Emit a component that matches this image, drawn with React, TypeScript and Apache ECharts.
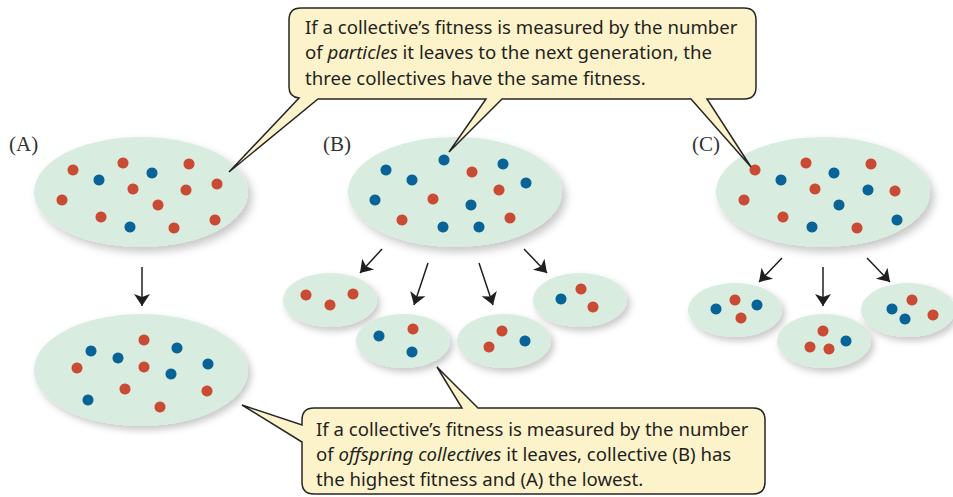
import React, { useEffect, useRef } from "react";
import * as echarts from "echarts";

// Collectives: centres [x, y]
const parentCenters = [
  [141, 192],
  [455, 192],
  [823, 192],
];
const offspringCenters = [
  [141, 370],
  [330, 300],
  [403, 341],
  [504, 341],
  [580, 300],
  [735, 310],
  [824, 341],
  [908, 310],
];

// Red particles
const redDots = [
  // A parent
  [73, 170], [123, 163], [189, 164], [133, 189], [186, 190], [217, 184],
  [62, 200], [158, 205], [101, 217], [174, 228], [215, 220],
  // A offspring
  [144, 340], [77, 368], [144, 367], [125, 389], [160, 407], [207, 391],
  // B parent
  [472, 172], [499, 190], [433, 199], [402, 220], [510, 218],
  // B offspring
  [306, 295], [330, 305], [353, 294],
  [413, 329],
  [502, 331], [489, 347],
  [581, 289], [593, 307],
  // C parent
  [755, 170], [806, 163], [871, 164], [815, 189], [895, 191], [744, 200],
  [783, 217], [857, 228],
  // C offspring
  [735, 300], [741, 318],
  [823, 331], [810, 347], [829, 349],
  [912, 300], [933, 315],
];

// Blue particles
const blueDots = [
  // A parent
  [99, 180], [152, 173], [130, 227],
  // A offspring
  [91, 351], [118, 358], [177, 348], [208, 364], [171, 374], [88, 400],
  // B parent
  [444, 160], [386, 170], [412, 180], [503, 164], [526, 183], [375, 200],
  [471, 205], [443, 227], [479, 227],
  // B offspring
  [379, 336], [412, 352],
  [525, 341],
  [561, 299],
  // C parent
  [781, 180], [834, 173], [868, 190], [839, 205], [812, 227], [897, 220],
  // C offspring
  [716, 309], [757, 305],
  [846, 341],
  [892, 309], [905, 319],
];

// Reproduction arrows [from, to]
const arrows = [
  [[142, 267], [142, 306]],
  [[382, 249], [360, 273]],
  [[428, 263], [414, 305]],
  [[479, 263], [493, 305]],
  [[524, 249], [547, 273]],
  [[782, 258], [759, 282]],
  [[823, 267], [823, 306]],
  [[867, 258], [890, 282]],
];

const panelLabels = ["(A)", "(B)", "(C)"];

const topLines = [
  "If a collective’s fitness is measured by the number",
  "of {i|particles} it leaves to the next generation, the",
  "three collectives have the same fitness.",
];
const bottomLines = [
  "If a collective’s fitness is measured by the number",
  "of {i|offspring collectives} it leaves, collective (B) has",
  "the highest fitness and (A) the lowest.",
];

const TOP_CALLOUT =
  "M301 8 L744 8 Q756 8 756 20 L756 87 Q756 99 744 99 L707 99 L751 167 L691 99 " +
  "L502 99 L449 152 L486 99 L318 99 L229 172 L299 98 Q289 97 289 87 L289 20 Q289 8 301 8 Z";
const BOTTOM_CALLOUT =
  "M314 408 L462 408 L437 367 L478 408 L753 408 Q765 408 765 420 L765 482 Q765 494 753 494 " +
  "L314 494 Q302 494 302 482 L302 442 L242 405 L302 425 L302 420 Q302 408 314 408 Z";

let registered = false;
function registerShapes() {
  if (registered) return;
  echarts.graphic.registerShape("calloutTop", echarts.graphic.extendPath(TOP_CALLOUT, {}));
  echarts.graphic.registerShape("calloutBottom", echarts.graphic.extendPath(BOTTOM_CALLOUT, {}));
  registered = true;
}

const SANS = "'Noto Sans', 'Open Sans', sans-serif";
const FS = 18.6;

export default function App() {
  const ref = useRef<HTMLDivElement>(null);
  useEffect(() => {
    if (!ref.current) return;
    registerShapes();
    const chart = echarts.init(ref.current, undefined, { renderer: "svg" });

    const textEl = (txt: string, x: number, y: number) => ({
      type: "text",
      z: 101,
      x,
      y,
      style: {
        text: txt,
        fontSize: FS,
        fontFamily: SANS,
        fill: "#231f20",
        verticalAlign: "middle",
        align: "left",
        rich: {
          i: { fontStyle: "italic", fontSize: FS, fontFamily: SANS, fill: "#231f20" },
        },
      },
    });

    const labelX = [9, 323, 692];

    const option: any = {
      animation: false,
      grid: { left: 0, right: 0, top: 0, bottom: 0 },
      xAxis: { type: "value", min: 0, max: 953, show: false },
      yAxis: { type: "value", min: 0, max: 497, inverse: true, show: false },
      series: [
        {
          type: "scatter",
          z: 1,
          symbol: "circle",
          symbolSize: [214, 110],
          silent: true,
          itemStyle: {
            color: "#d9ece0",
            opacity: 1,
            shadowBlur: 8,
            shadowOffsetX: 4,
            shadowOffsetY: 5,
            shadowColor: "rgba(0,0,0,0.22)",
          },
          data: parentCenters,
        },
        {
          type: "scatter",
          z: 1,
          symbol: "circle",
          symbolSize: (v: number[], p: any) => (p.dataIndex === 0 ? [214, 112] : [94, 54]),
          silent: true,
          itemStyle: {
            color: "#d9ece0",
            opacity: 1,
            shadowBlur: 7,
            shadowOffsetX: 3,
            shadowOffsetY: 4,
            shadowColor: "rgba(0,0,0,0.22)",
          },
          data: offspringCenters,
        },
        {
          type: "lines",
          coordinateSystem: "cartesian2d",
          z: 2,
          symbol: ["none", "arrow"],
          symbolSize: [8, 12],
          lineStyle: { color: "#1f1f1f", width: 1.5, opacity: 1, curveness: 0 },
          data: arrows.map((a) => ({ coords: a })),
        },
        {
          type: "scatter",
          z: 3,
          symbolSize: 11,
          itemStyle: { color: "#c94b34", opacity: 1 },
          data: redDots,
        },
        {
          type: "scatter",
          z: 3,
          symbolSize: 11,
          itemStyle: { color: "#086396", opacity: 1 },
          data: blueDots,
        },
      ],
      graphic: [
        ...panelLabels.map((t, i) => ({
          type: "text",
          z: 50,
          x: labelX[i],
          y: 144,
          style: {
            text: t,
            fontSize: 21,
            fontFamily: "'Liberation Serif', 'DejaVu Serif', serif",
            fill: "#333",
            verticalAlign: "middle",
          },
        })),
        {
          type: "calloutTop",
          z: 100,
          x: 0,
          y: 0,
          style: { fill: "#fdf3cb", stroke: "#262626", lineWidth: 1.5, lineJoin: "miter" },
        },
        {
          type: "calloutBottom",
          z: 100,
          x: 0,
          y: 0,
          style: { fill: "#fdf3cb", stroke: "#262626", lineWidth: 1.5, lineJoin: "miter" },
        },
        ...topLines.map((t, i) => textEl(t, 305, 26 + i * 25.5)),
        ...bottomLines.map((t, i) => textEl(t, 316, 428 + i * 25)),
      ],
    };
    chart.setOption(option);
    return () => chart.dispose();
  }, []);
  return (
    <div
      ref={ref}
      style={{ position: "absolute", left: 0, top: 0, width: 953, height: 497 }}
    />
  );
}
